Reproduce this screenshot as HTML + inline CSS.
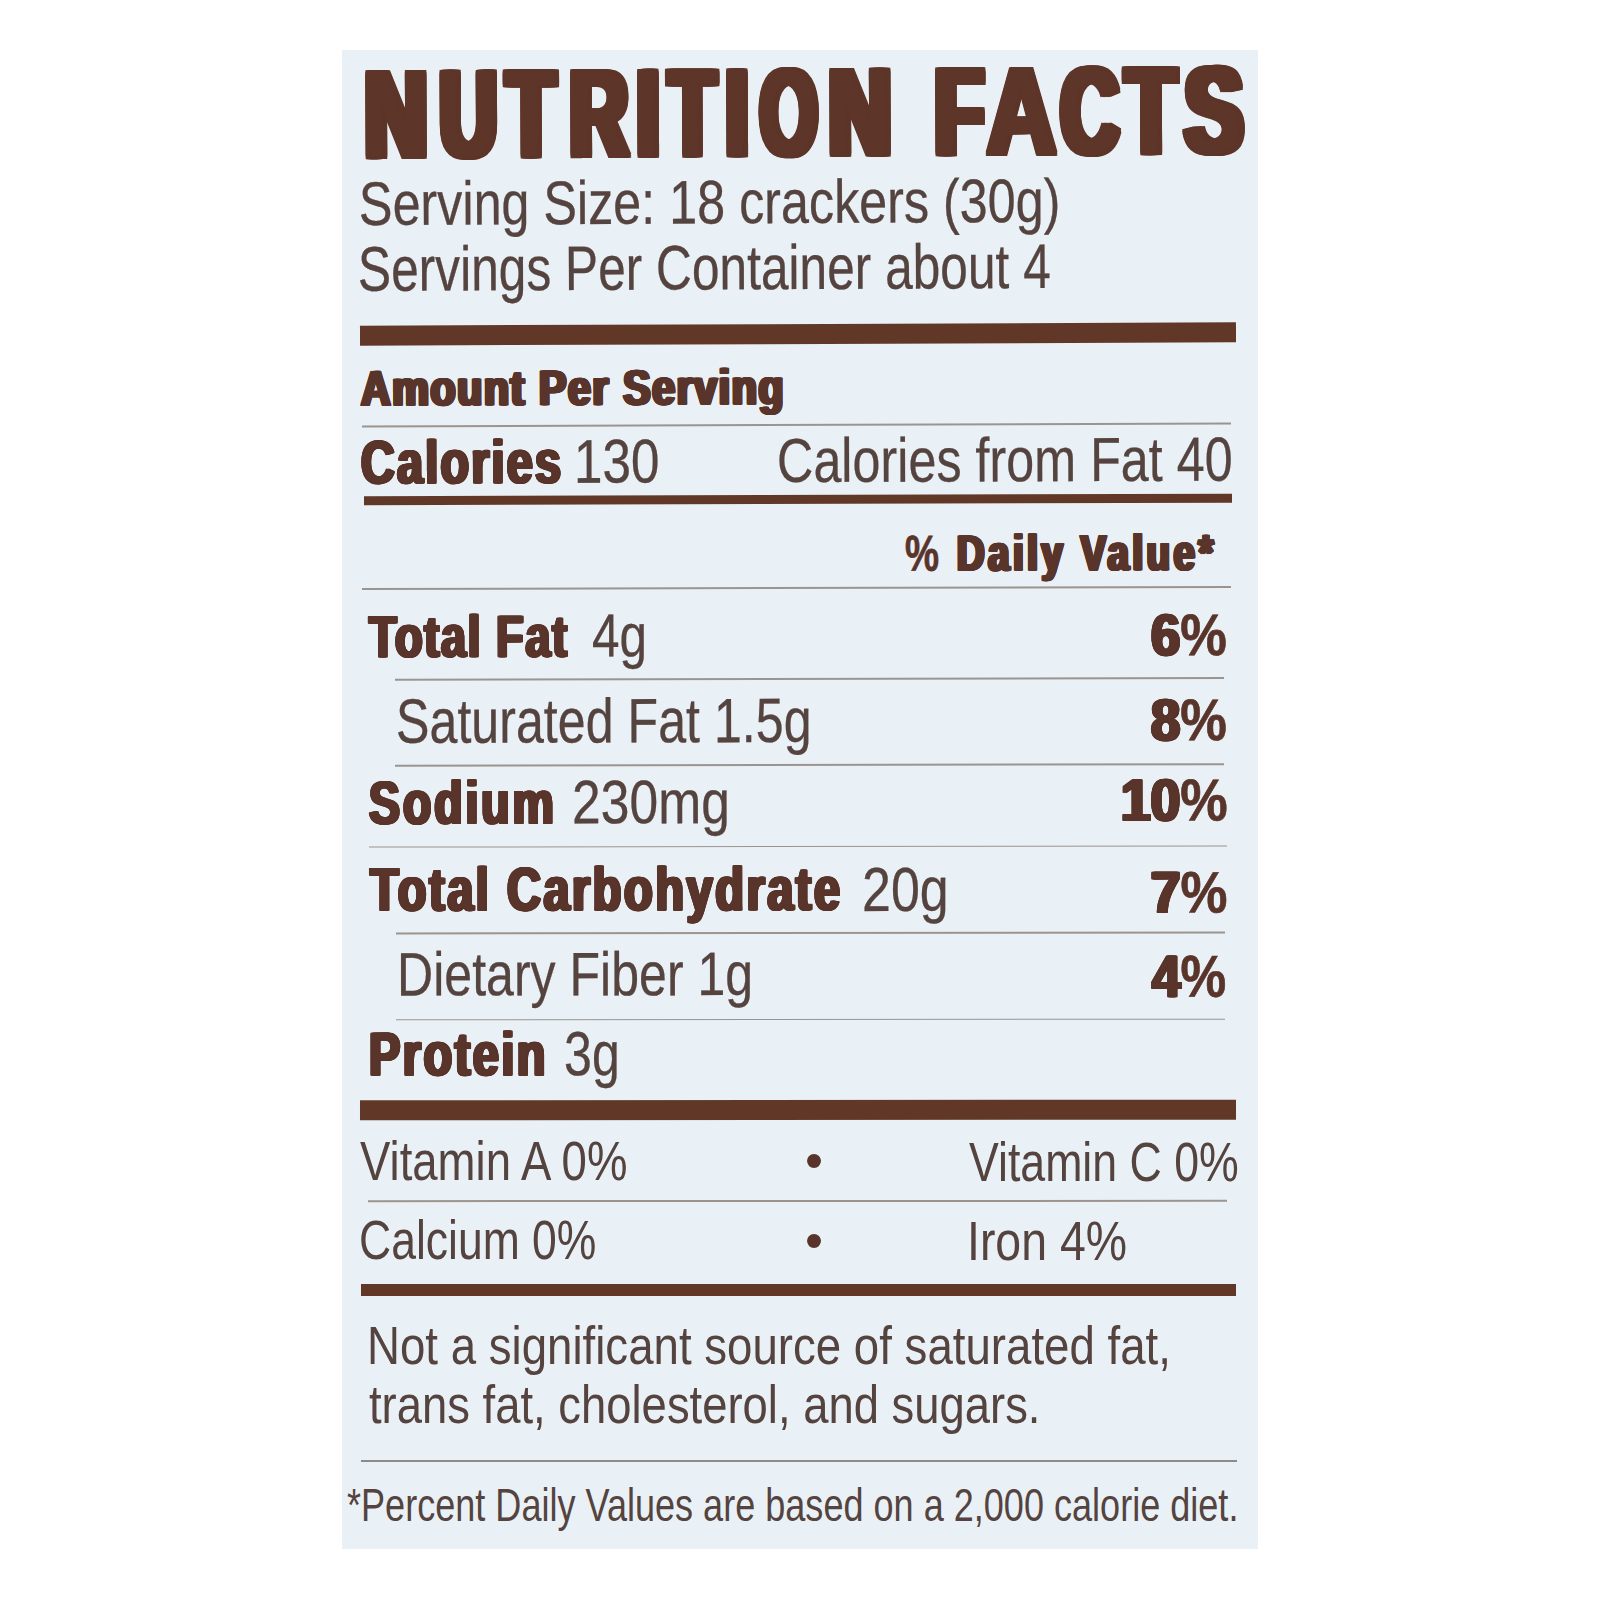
<!DOCTYPE html>
<html lang="en"><head><meta charset="utf-8"><title>Nutrition Facts</title>
<style>
*{margin:0;padding:0;box-sizing:border-box}
html,body{width:1600px;height:1600px;background:#fff;overflow:hidden}
body{position:relative;font-family:"Liberation Sans",sans-serif}
.w{position:absolute;left:0;top:0;width:1600px;height:0}
.t{position:absolute;white-space:pre;line-height:1;font-family:"Liberation Sans",sans-serif;transform-origin:0 0;paint-order:stroke fill}
.ttl span{position:absolute;top:0;display:block;transform-origin:0 0;white-space:pre}
.pc{text-shadow:none;-webkit-text-stroke:.7px currentColor}
.r{position:absolute}
#p{position:absolute;left:342px;top:50px;width:916px;height:1499px;background:#e9f1f6}
</style></head>
<body>
<div id="p"></div>
<div class="w" style="transform-origin:800px 333.9px;transform:rotate(-0.2156deg)"><div class="r" style="left:359.7px;top:323.6px;width:876.6px;height:20.60px;background:#613828"></div></div>
<div class="w" style="transform-origin:800px 424.9px;transform:rotate(-0.1884deg)"><div class="r" style="left:362px;top:424.2px;width:869.0px;height:1.50px;background:#9c948f"></div></div>
<div class="w" style="transform-origin:800px 499.4px;transform:rotate(-0.1672deg)"><div class="r" style="left:363.5px;top:494.6px;width:868.3px;height:9.50px;background:#613828"></div></div>
<div class="w" style="transform-origin:800px 587.8px;transform:rotate(-0.1433deg)"><div class="r" style="left:362px;top:587.0px;width:869.0px;height:1.50px;background:#9c948f"></div></div>
<div class="w" style="transform-origin:800px 678.8px;transform:rotate(-0.1201deg)"><div class="r" style="left:395.3px;top:678.0px;width:829.2px;height:1.50px;background:#9c948f"></div></div>
<div class="w" style="transform-origin:800px 764.9px;transform:rotate(-0.0996deg)"><div class="r" style="left:395.3px;top:764.1px;width:829.2px;height:1.50px;background:#9c948f"></div></div>
<div class="w" style="transform-origin:800px 846.2px;transform:rotate(-0.0816deg)"><div class="r" style="left:369px;top:845.5px;width:858.0px;height:1.50px;background:#9c948f"></div></div>
<div class="w" style="transform-origin:800px 932.8px;transform:rotate(-0.0640deg)"><div class="r" style="left:395.5px;top:932.0px;width:829.0px;height:1.50px;background:#9c948f"></div></div>
<div class="w" style="transform-origin:800px 1019.5px;transform:rotate(-0.0480deg)"><div class="r" style="left:395.5px;top:1018.8px;width:829.0px;height:1.50px;background:#9c948f"></div></div>
<div class="w" style="transform-origin:800px 1110.2px;transform:rotate(-0.0332deg)"><div class="r" style="left:359.9px;top:1100.3px;width:875.9px;height:19.80px;background:#613828"></div></div>
<div class="w" style="transform-origin:800px 1201.0px;transform:rotate(-0.0205deg)"><div class="r" style="left:368px;top:1200.3px;width:858.5px;height:1.50px;background:#9c948f"></div></div>
<div class="w" style="transform-origin:800px 1290.0px;transform:rotate(-0.0105deg)"><div class="r" style="left:361.2px;top:1283.8px;width:875.3px;height:12.50px;background:#613828"></div></div>
<div class="w"><div class="r" style="left:360.6px;top:1460.0px;width:876.5px;height:1.90px;background:#8d8a88"></div></div>
<div class="w" style="transform-origin:800px 112.6px;transform:rotate(-0.2873deg)"><div class="t ttl" style="left:0;top:50.78px;width:1600px;height:123.4px;font-size:123.40px;font-weight:700;color:#5e3529;text-shadow:-7.60px -1.95px 0 #5e3529,-7.60px 0.00px 0 #5e3529,-7.60px 1.95px 0 #5e3529,-5.70px -1.95px 0 #5e3529,-5.70px 0.00px 0 #5e3529,-5.70px 1.95px 0 #5e3529,-3.80px -1.95px 0 #5e3529,-3.80px 0.00px 0 #5e3529,-3.80px 1.95px 0 #5e3529,-1.90px -1.95px 0 #5e3529,-1.90px 0.00px 0 #5e3529,-1.90px 1.95px 0 #5e3529,0.00px -1.95px 0 #5e3529,0.00px 1.95px 0 #5e3529,1.90px -1.95px 0 #5e3529,1.90px 0.00px 0 #5e3529,1.90px 1.95px 0 #5e3529,3.80px -1.95px 0 #5e3529,3.80px 0.00px 0 #5e3529,3.80px 1.95px 0 #5e3529,5.70px -1.95px 0 #5e3529,5.70px 0.00px 0 #5e3529,5.70px 1.95px 0 #5e3529,7.60px -1.95px 0 #5e3529,7.60px 0.00px 0 #5e3529,7.60px 1.95px 0 #5e3529;"><span style="left:365.00px;transform:scaleX(0.6966)">N</span><span style="left:440.00px;transform:scaleX(0.6404)">U</span><span style="left:507.48px;transform:scaleX(0.6404)">T</span><span style="left:570.00px;transform:scaleX(0.6489)">R</span><span style="left:637.00px;transform:scaleX(0.6471)">I</span><span style="left:669.33px;transform:scaleX(0.6180)">T</span><span style="left:726.00px;transform:scaleX(0.6471)">I</span><span style="left:759.79px;transform:scaleX(0.5980)">O</span><span style="left:829.00px;transform:scaleX(0.6966)">N</span><span style="left:900px"> </span><span style="left:935.00px;transform:scaleX(0.6456)">F</span><span style="left:986.55px;text-shadow:-5.00px -1.95px 0 #5e3529,-5.00px 0.00px 0 #5e3529,-5.00px 1.95px 0 #5e3529,-3.75px -1.95px 0 #5e3529,-3.75px 0.00px 0 #5e3529,-3.75px 1.95px 0 #5e3529,-2.50px -1.95px 0 #5e3529,-2.50px 0.00px 0 #5e3529,-2.50px 1.95px 0 #5e3529,-1.25px -1.95px 0 #5e3529,-1.25px 0.00px 0 #5e3529,-1.25px 1.95px 0 #5e3529,0.00px -1.95px 0 #5e3529,0.00px 1.95px 0 #5e3529,1.25px -1.95px 0 #5e3529,1.25px 0.00px 0 #5e3529,1.25px 1.95px 0 #5e3529,2.50px -1.95px 0 #5e3529,2.50px 0.00px 0 #5e3529,2.50px 1.95px 0 #5e3529,3.75px -1.95px 0 #5e3529,3.75px 0.00px 0 #5e3529,3.75px 1.95px 0 #5e3529,5.00px -1.95px 0 #5e3529,5.00px 0.00px 0 #5e3529,5.00px 1.95px 0 #5e3529;transform:scaleX(0.7742)">A</span><span style="left:1060.94px;transform:scaleX(0.6458)">C</span><span style="left:1125.64px;transform:scaleX(0.6629)">T</span><span style="left:1184.81px;transform:scaleX(0.7022)">S</span></div></div>
<div class="w" style="transform-origin:800px 201.6px;transform:rotate(-0.2575deg)"><div class="t" style="left:358.55px;top:170.81px;font-size:61.48px;font-weight:400;color:#54433e;-webkit-text-stroke:0.3px #54433e;transform:scaleX(0.8179)">Serving Size: 18 crackers (30g)</div></div>
<div class="w" style="transform-origin:800px 268.0px;transform:rotate(-0.2362deg)"><div class="t" style="left:358.23px;top:236.44px;font-size:62.94px;font-weight:400;color:#54433e;-webkit-text-stroke:0.3px #54433e;transform:scaleX(0.7888)">Servings Per Container about 4</div></div>
<div class="w" style="transform-origin:800px 387.3px;transform:rotate(-0.1995deg)"><div class="t" style="left:360.83px;top:362.49px;font-size:49.51px;font-weight:700;color:#59342a;text-shadow:-2.16px -0.42px 0 #59342a,-2.16px 0.00px 0 #59342a,-2.16px 0.42px 0 #59342a,-1.08px -0.42px 0 #59342a,-1.08px 0.00px 0 #59342a,-1.08px 0.42px 0 #59342a,0.00px -0.42px 0 #59342a,0.00px 0.42px 0 #59342a,1.08px -0.42px 0 #59342a,1.08px 0.00px 0 #59342a,1.08px 0.42px 0 #59342a,2.16px -0.42px 0 #59342a,2.16px 0.00px 0 #59342a,2.16px 0.42px 0 #59342a;letter-spacing:1.98px;transform:scaleX(0.8294)">Amount Per Serving</div></div>
<div class="w" style="transform-origin:800px 461.1px;transform:rotate(-0.1780deg)"><div class="t" style="left:360.60px;top:430.68px;font-size:60.72px;font-weight:700;color:#59342a;text-shadow:-1.93px -0.51px 0 #59342a,-1.93px 0.00px 0 #59342a,-1.93px 0.51px 0 #59342a,-0.96px -0.51px 0 #59342a,-0.96px 0.00px 0 #59342a,-0.96px 0.51px 0 #59342a,0.00px -0.51px 0 #59342a,0.00px 0.51px 0 #59342a,0.96px -0.51px 0 #59342a,0.96px 0.00px 0 #59342a,0.96px 0.51px 0 #59342a,1.93px -0.51px 0 #59342a,1.93px 0.00px 0 #59342a,1.93px 0.51px 0 #59342a;letter-spacing:2.85px;transform:scaleX(0.7699)">Calories</div></div>
<div class="w" style="transform-origin:800px 461.1px;transform:rotate(-0.1780deg)"><div class="t" style="left:574.18px;top:430.15px;font-size:61.77px;font-weight:400;color:#54433e;-webkit-text-stroke:0.3px #54433e;transform:scaleX(0.8299)">130</div></div>
<div class="w" style="transform-origin:800px 461.3px;transform:rotate(-0.1779deg)"><div class="t" style="left:776.58px;top:430.05px;font-size:62.28px;font-weight:400;color:#54433e;-webkit-text-stroke:0.3px #54433e;transform:scaleX(0.8079)">Calories from Fat 40</div></div>
<div class="w" style="transform-origin:800px 553.9px;transform:rotate(-0.1523deg)"><div class="t" style="left:905.49px;top:528.57px;font-size:50.57px;font-weight:700;color:#59342a;text-shadow:-2.21px -0.43px 0 #59342a,-2.21px 0.00px 0 #59342a,-2.21px 0.43px 0 #59342a,-1.11px -0.43px 0 #59342a,-1.11px 0.00px 0 #59342a,-1.11px 0.43px 0 #59342a,0.00px -0.43px 0 #59342a,0.00px 0.43px 0 #59342a,1.11px -0.43px 0 #59342a,1.11px 0.00px 0 #59342a,1.11px 0.43px 0 #59342a,2.21px -0.43px 0 #59342a,2.21px 0.00px 0 #59342a,2.21px 0.43px 0 #59342a;letter-spacing:4.66px;transform:scaleX(0.7592)"><span class="pc">%</span> Daily Value*</div></div>
<div class="w" style="transform-origin:800px 636.3px;transform:rotate(-0.1307deg)"><div class="t" style="left:369.27px;top:606.92px;font-size:58.73px;font-weight:700;color:#59342a;text-shadow:-1.86px -0.50px 0 #59342a,-1.86px 0.00px 0 #59342a,-1.86px 0.50px 0 #59342a,-0.93px -0.50px 0 #59342a,-0.93px 0.00px 0 #59342a,-0.93px 0.50px 0 #59342a,0.00px -0.50px 0 #59342a,0.00px 0.50px 0 #59342a,0.93px -0.50px 0 #59342a,0.93px 0.00px 0 #59342a,0.93px 0.50px 0 #59342a,1.86px -0.50px 0 #59342a,1.86px 0.00px 0 #59342a,1.86px 0.50px 0 #59342a;letter-spacing:2.13px;transform:scaleX(0.7702)">Total Fat</div></div>
<div class="w" style="transform-origin:800px 635.9px;transform:rotate(-0.1308deg)"><div class="t" style="left:591.69px;top:605.43px;font-size:60.90px;font-weight:400;color:#54433e;-webkit-text-stroke:0.3px #54433e;transform:scaleX(0.8135)">4g</div></div>
<div class="w" style="transform-origin:800px 636.8px;transform:rotate(-0.1306deg)"><div class="t" style="left:1151.00px;top:607.42px;font-size:58.73px;font-weight:700;color:#59342a;text-shadow:-1.86px -0.50px 0 #59342a,-1.86px 0.00px 0 #59342a,-1.86px 0.50px 0 #59342a,-0.93px -0.50px 0 #59342a,-0.93px 0.00px 0 #59342a,-0.93px 0.50px 0 #59342a,0.00px -0.50px 0 #59342a,0.00px 0.50px 0 #59342a,0.93px -0.50px 0 #59342a,0.93px 0.00px 0 #59342a,0.93px 0.50px 0 #59342a,1.86px -0.50px 0 #59342a,1.86px 0.00px 0 #59342a,1.86px 0.50px 0 #59342a;transform:scaleX(0.8929)">6<span class="pc">%</span></div></div>
<div class="w" style="transform-origin:800px 720.2px;transform:rotate(-0.1101deg)"><div class="t" style="left:396.35px;top:688.77px;font-size:62.65px;font-weight:400;color:#54433e;-webkit-text-stroke:0.3px #54433e;transform:scaleX(0.8008)">Saturated Fat 1.5g</div></div>
<div class="w" style="transform-origin:800px 721.7px;transform:rotate(-0.1097deg)"><div class="t" style="left:1151.00px;top:692.29px;font-size:58.73px;font-weight:700;color:#59342a;text-shadow:-1.86px -0.50px 0 #59342a,-1.86px 0.00px 0 #59342a,-1.86px 0.50px 0 #59342a,-0.93px -0.50px 0 #59342a,-0.93px 0.00px 0 #59342a,-0.93px 0.50px 0 #59342a,0.00px -0.50px 0 #59342a,0.00px 0.50px 0 #59342a,0.93px -0.50px 0 #59342a,0.93px 0.00px 0 #59342a,0.93px 0.50px 0 #59342a,1.86px -0.50px 0 #59342a,1.86px 0.00px 0 #59342a,1.86px 0.50px 0 #59342a;transform:scaleX(0.8929)">8<span class="pc">%</span></div></div>
<div class="w" style="transform-origin:800px 802.1px;transform:rotate(-0.0912deg)"><div class="t" style="left:369.40px;top:771.86px;font-size:60.43px;font-weight:700;color:#59342a;text-shadow:-1.92px -0.51px 0 #59342a,-1.92px 0.00px 0 #59342a,-1.92px 0.51px 0 #59342a,-0.96px -0.51px 0 #59342a,-0.96px 0.00px 0 #59342a,-0.96px 0.51px 0 #59342a,0.00px -0.51px 0 #59342a,0.00px 0.51px 0 #59342a,0.96px -0.51px 0 #59342a,0.96px 0.00px 0 #59342a,0.96px 0.51px 0 #59342a,1.92px -0.51px 0 #59342a,1.92px 0.00px 0 #59342a,1.92px 0.51px 0 #59342a;letter-spacing:3.74px;transform:scaleX(0.7690)">Sodium</div></div>
<div class="w" style="transform-origin:800px 802.1px;transform:rotate(-0.0912deg)"><div class="t" style="left:572.48px;top:771.33px;font-size:61.48px;font-weight:400;color:#54433e;-webkit-text-stroke:0.3px #54433e;transform:scaleX(0.8398)">230mg</div></div>
<div class="w" style="transform-origin:800px 800.7px;transform:rotate(-0.0916deg)"><div class="t" style="left:1120.60px;top:771.06px;font-size:59.16px;font-weight:700;color:#59342a;text-shadow:-1.88px -0.50px 0 #59342a,-1.88px 0.00px 0 #59342a,-1.88px 0.50px 0 #59342a,-0.94px -0.50px 0 #59342a,-0.94px 0.00px 0 #59342a,-0.94px 0.50px 0 #59342a,0.00px -0.50px 0 #59342a,0.00px 0.50px 0 #59342a,0.94px -0.50px 0 #59342a,0.94px 0.00px 0 #59342a,0.94px 0.50px 0 #59342a,1.88px -0.50px 0 #59342a,1.88px 0.00px 0 #59342a,1.88px 0.50px 0 #59342a;transform:scaleX(0.9009)">10<span class="pc">%</span></div></div>
<div class="w" style="transform-origin:800px 889.8px;transform:rotate(-0.0726deg)"><div class="t" style="left:369.64px;top:859.19px;font-size:61.14px;font-weight:700;color:#59342a;text-shadow:-1.94px -0.52px 0 #59342a,-1.94px 0.00px 0 #59342a,-1.94px 0.52px 0 #59342a,-0.97px -0.52px 0 #59342a,-0.97px 0.00px 0 #59342a,-0.97px 0.52px 0 #59342a,0.00px -0.52px 0 #59342a,0.00px 0.52px 0 #59342a,0.97px -0.52px 0 #59342a,0.97px 0.00px 0 #59342a,0.97px 0.52px 0 #59342a,1.94px -0.52px 0 #59342a,1.94px 0.00px 0 #59342a,1.94px 0.52px 0 #59342a;letter-spacing:3.23px;transform:scaleX(0.7698)">Total Carbohydrate</div></div>
<div class="w" style="transform-origin:800px 889.8px;transform:rotate(-0.0726deg)"><div class="t" style="left:862.49px;top:858.65px;font-size:62.21px;font-weight:400;color:#54433e;-webkit-text-stroke:0.3px #54433e;transform:scaleX(0.8351)">20g</div></div>
<div class="w" style="transform-origin:800px 892.9px;transform:rotate(-0.0720deg)"><div class="t" style="left:1151.00px;top:863.58px;font-size:58.45px;font-weight:700;color:#59342a;text-shadow:-1.85px -0.49px 0 #59342a,-1.85px 0.00px 0 #59342a,-1.85px 0.49px 0 #59342a,-0.93px -0.49px 0 #59342a,-0.93px 0.00px 0 #59342a,-0.93px 0.49px 0 #59342a,0.00px -0.49px 0 #59342a,0.00px 0.49px 0 #59342a,0.93px -0.49px 0 #59342a,0.93px 0.00px 0 #59342a,0.93px 0.49px 0 #59342a,1.85px -0.49px 0 #59342a,1.85px 0.00px 0 #59342a,1.85px 0.49px 0 #59342a;transform:scaleX(0.9036)">7<span class="pc">%</span></div></div>
<div class="w" style="transform-origin:800px 974.0px;transform:rotate(-0.0562deg)"><div class="t" style="left:396.52px;top:943.24px;font-size:61.34px;font-weight:400;color:#54433e;-webkit-text-stroke:0.3px #54433e;transform:scaleX(0.8164)">Dietary Fiber 1g</div></div>
<div class="w" style="transform-origin:800px 977.0px;transform:rotate(-0.0556deg)"><div class="t" style="left:1151.74px;top:947.37px;font-size:59.16px;font-weight:700;color:#59342a;text-shadow:-1.88px -0.50px 0 #59342a,-1.88px 0.00px 0 #59342a,-1.88px 0.50px 0 #59342a,-0.94px -0.50px 0 #59342a,-0.94px 0.00px 0 #59342a,-0.94px 0.50px 0 #59342a,0.00px -0.50px 0 #59342a,0.00px 0.50px 0 #59342a,0.94px -0.50px 0 #59342a,0.94px 0.00px 0 #59342a,0.94px 0.50px 0 #59342a,1.88px -0.50px 0 #59342a,1.88px 0.00px 0 #59342a,1.88px 0.50px 0 #59342a;transform:scaleX(0.8678)">4<span class="pc">%</span></div></div>
<div class="w" style="transform-origin:800px 1054.4px;transform:rotate(-0.0421deg)"><div class="t" style="left:369.06px;top:1023.70px;font-size:61.21px;font-weight:700;color:#59342a;text-shadow:-1.94px -0.52px 0 #59342a,-1.94px 0.00px 0 #59342a,-1.94px 0.52px 0 #59342a,-0.97px -0.52px 0 #59342a,-0.97px 0.00px 0 #59342a,-0.97px 0.52px 0 #59342a,0.00px -0.52px 0 #59342a,0.00px 0.52px 0 #59342a,0.97px -0.52px 0 #59342a,0.97px 0.00px 0 #59342a,0.97px 0.52px 0 #59342a,1.94px -0.52px 0 #59342a,1.94px 0.00px 0 #59342a,1.94px 0.52px 0 #59342a;letter-spacing:3.12px;transform:scaleX(0.7690)">Protein</div></div>
<div class="w" style="transform-origin:800px 1054.4px;transform:rotate(-0.0421deg)"><div class="t" style="left:564.39px;top:1023.16px;font-size:62.28px;font-weight:400;color:#54433e;-webkit-text-stroke:0.3px #54433e;transform:scaleX(0.8047)">3g</div></div>
<div class="w" style="transform-origin:800px 1162.0px;transform:rotate(-0.0257deg)"><div class="t" style="left:360.00px;top:1134.21px;font-size:55.45px;font-weight:400;color:#54433e;transform:scaleX(0.8210)">Vitamin A 0%</div></div>
<div class="w" style="transform-origin:800px 1161.5px;transform:rotate(-0.0258deg)"><div class="t" style="left:969.40px;top:1133.52px;font-size:55.81px;font-weight:400;color:#54433e;transform:scaleX(0.8003)">Vitamin C 0%</div></div>
<div class="w" style="transform-origin:800px 1241.3px;transform:rotate(-0.0157deg)"><div class="t" style="left:358.81px;top:1213.91px;font-size:54.65px;font-weight:400;color:#54433e;transform:scaleX(0.8145)">Calcium 0%</div></div>
<div class="w" style="transform-origin:800px 1241.1px;transform:rotate(-0.0157deg)"><div class="t" style="left:967.09px;top:1213.19px;font-size:55.81px;font-weight:400;color:#54433e;transform:scaleX(0.8320)">Iron 4%</div></div>
<div class="w" style="transform-origin:800px 1346.7px;transform:rotate(-0.0055deg)"><div class="t" style="left:367.25px;top:1319.40px;font-size:54.51px;font-weight:400;color:#54433e;transform:scaleX(0.8371)">Not a significant source of saturated fat,</div></div>
<div class="w" style="transform-origin:800px 1405.3px;transform:rotate(-0.0017deg)"><div class="t" style="left:368.57px;top:1378.03px;font-size:54.51px;font-weight:400;color:#54433e;transform:scaleX(0.8333)">trans fat, cholesterol, and sugars.</div></div>
<div class="w"><div class="t" style="left:347.30px;top:1482.78px;font-size:45.35px;font-weight:400;color:#54433e;transform:scaleX(0.7953)">*Percent Daily Values are based on a 2,000 calorie diet.</div></div>
<div class="w" style="transform-origin:800px 1160.9px;transform:rotate(-0.0258deg)"><div class="t" style="left:804.88px;top:1135.14px;font-size:51.53px;color:#59342a">&bull;</div></div>
<div class="w" style="transform-origin:800px 1240.5px;transform:rotate(-0.0158deg)"><div class="t" style="left:804.88px;top:1214.74px;font-size:51.53px;color:#59342a">&bull;</div></div>
</body></html>
